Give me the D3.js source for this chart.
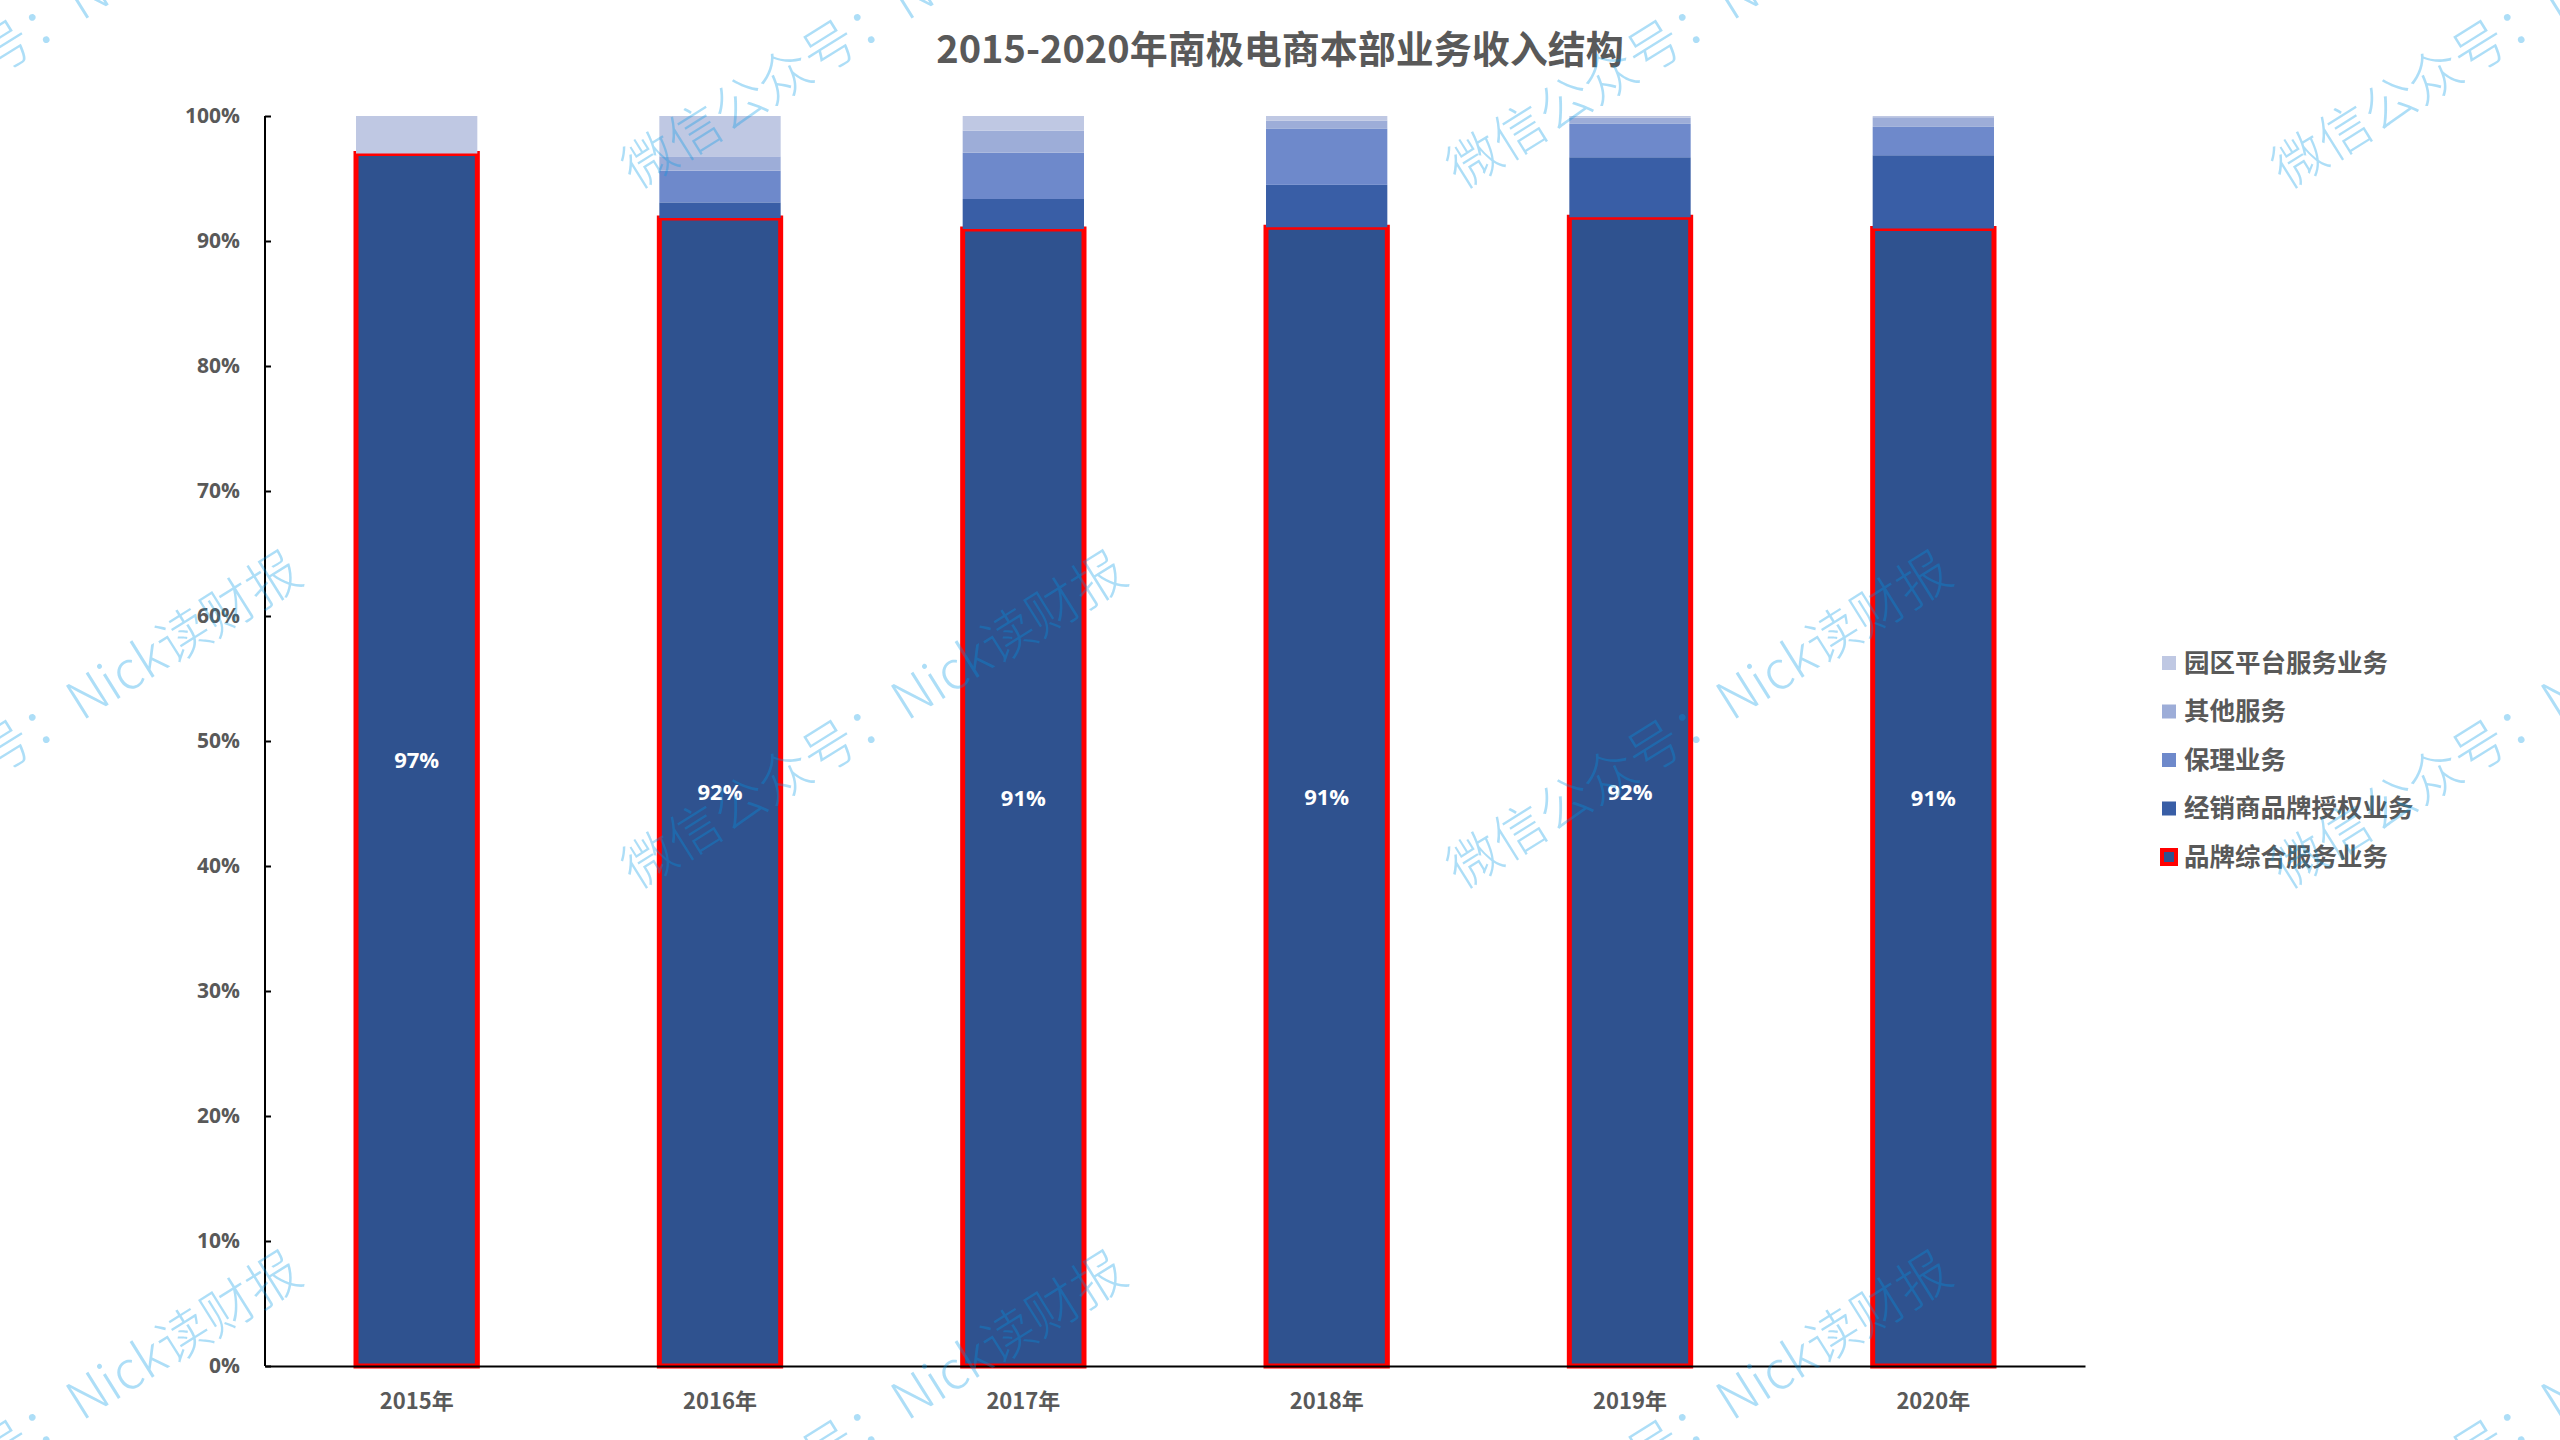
<!DOCTYPE html>
<html><head><meta charset="utf-8">
<script src="https://cdn.jsdelivr.net/npm/d3@7"></script>
<style>body{margin:0;background:#fff;} svg{display:block;}</style>
</head><body>
<script>
const title = "2015-2020年南极电商本部业务收入结构";
const years = ["2015年","2016年","2017年","2018年","2019年","2020年"];
const seriesNames = ["品牌综合服务业务","经销商品牌授权业务","保理业务","其他服务","园区平台服务业务"];
const brandService   = [97.0, 91.84, 90.96, 91.1, 91.9, 91.0];
const dealerLicense  = [0.0, 1.25, 2.4, 3.39, 4.8, 5.86];
const factoring      = [0.0, 2.54, 3.7, 4.48, 2.67, 2.27];
const otherService   = [0.0, 1.14, 1.76, 0.67, 0.5, 0.77];
const parkPlatform   = [3.0, 3.23, 1.18, 0.36, 0.13, 0.1];
const yTicks = [0,10,20,30,40,50,60,70,80,90,100];
const colors = ["#2F528F","#395EA6","#6E89CB","#9DADD8","#BFC8E3"];

const W = 2560, H = 1440;
const m = {left:265, right:2085, top:116, bottom:1366};
const fontLatin = "'Open Sans','Noto Sans CJK SC',sans-serif";
const fontCJK = "'Noto Sans CJK SC','Open Sans',sans-serif";

const svg = d3.select("body").append("svg").attr("width",W).attr("height",H);
svg.append("rect").attr("width",W).attr("height",H).attr("fill","#fff");

const seriesVals = [brandService, dealerLicense, factoring, otherService, parkPlatform];
const table = years.map((y,i)=>{ const o={year:y}; seriesNames.forEach((s,k)=>o[s]=seriesVals[k][i]); return o; });
const stack = d3.stack().keys(seriesNames)(table);

const x = d3.scaleBand().domain(years).range([m.left,m.right]).paddingInner(0.6).paddingOuter(0.3);
const y = d3.scaleLinear().domain([0,100]).range([m.bottom,m.top]);

// title
svg.append("text").attr("x",1280).attr("y",63).attr("text-anchor","middle")
  .attr("font-family",fontCJK).attr("font-weight",700).attr("font-size",38).attr("fill","#595959").text(title);

// bars
stack.forEach((layer,k)=>{
  svg.append("g").selectAll("rect").data(layer).join("rect")
    .attr("x",d=>x(d.data.year)).attr("width",x.bandwidth())
    .attr("y",d=>y(d[1])).attr("height",d=>y(d[0])-y(d[1]))
    .attr("fill",colors[k])
    .attr("stroke",k===0?"#FF0000":"none").attr("stroke-width",k===0?5:0);
});

// labels on brand series
svg.append("g").selectAll("text").data(stack[0]).join("text")
  .attr("x",d=>x(d.data.year)+x.bandwidth()/2).attr("y",d=>(y(d[0])+y(d[1]))/2)
  .attr("dy","0.38em").attr("text-anchor","middle")
  .attr("font-family",fontLatin).attr("font-weight",700).attr("font-size",22).attr("fill","#fff")
  .text(d=>Math.round(d[1]-d[0])+"%");

// axes
const yAxis = d3.axisLeft(y).tickValues(yTicks).tickFormat(d=>d+"%").tickSize(-6).tickPadding(25);
const gy = svg.append("g").attr("transform",`translate(${m.left},0)`).call(yAxis);
gy.select(".domain").attr("stroke","#000").attr("stroke-width",2).attr("d",`M0,${m.top}V${m.bottom}`);
gy.selectAll(".tick line").attr("stroke","#000").attr("stroke-width",2);
gy.selectAll(".tick text").attr("font-family",fontLatin).attr("font-weight",700).attr("font-size",21).attr("fill","#595959");

const xAxis = d3.axisBottom(x).tickSize(0).tickPadding(27);
const gx = svg.append("g").attr("transform",`translate(0,${m.bottom})`).call(xAxis);
gx.select(".domain").attr("stroke","#000").attr("stroke-width",2);
gx.selectAll(".tick text").attr("font-family",fontCJK).attr("font-weight",700).attr("font-size",22).attr("fill","#595959");

// legend (top-to-bottom reversed)
const legY = d3.scalePoint().domain(seriesNames.slice().reverse()).range([663,857]);
const lg = svg.append("g");
seriesNames.forEach((s,k)=>{
  const cy = legY(s);
  if(k===0){
    lg.append("rect").attr("x",2162).attr("y",cy-7).attr("width",14).attr("height",14)
      .attr("fill",colors[k]).attr("stroke","#FF0000").attr("stroke-width",4);
  } else {
    lg.append("rect").attr("x",2162).attr("y",cy-7).attr("width",14).attr("height",14).attr("fill",colors[k]);
  }
  lg.append("text").attr("x",2184).attr("y",cy).attr("dy","0.35em")
    .attr("font-family",fontCJK).attr("font-weight",700).attr("font-size",25.5).attr("fill","#595959").text(s);
});

// watermark
const wm = "微信公众号：Nick读财报";
const wg = svg.append("g").attr("pointer-events","none");
const colsX = [-188, 637, 1462, 2287];
const rowsY = [190, 890, 1590];
rowsY.forEach(ry=>colsX.forEach(cx=>{
  wg.append("text").attr("transform",`translate(${cx},${ry}) rotate(-32)`)
    .attr("font-family",fontCJK).attr("font-weight",300).attr("font-size",53)
    .attr("fill","#0099e6").attr("fill-opacity",0.32).text(wm);
}));
</script>
</body></html>
